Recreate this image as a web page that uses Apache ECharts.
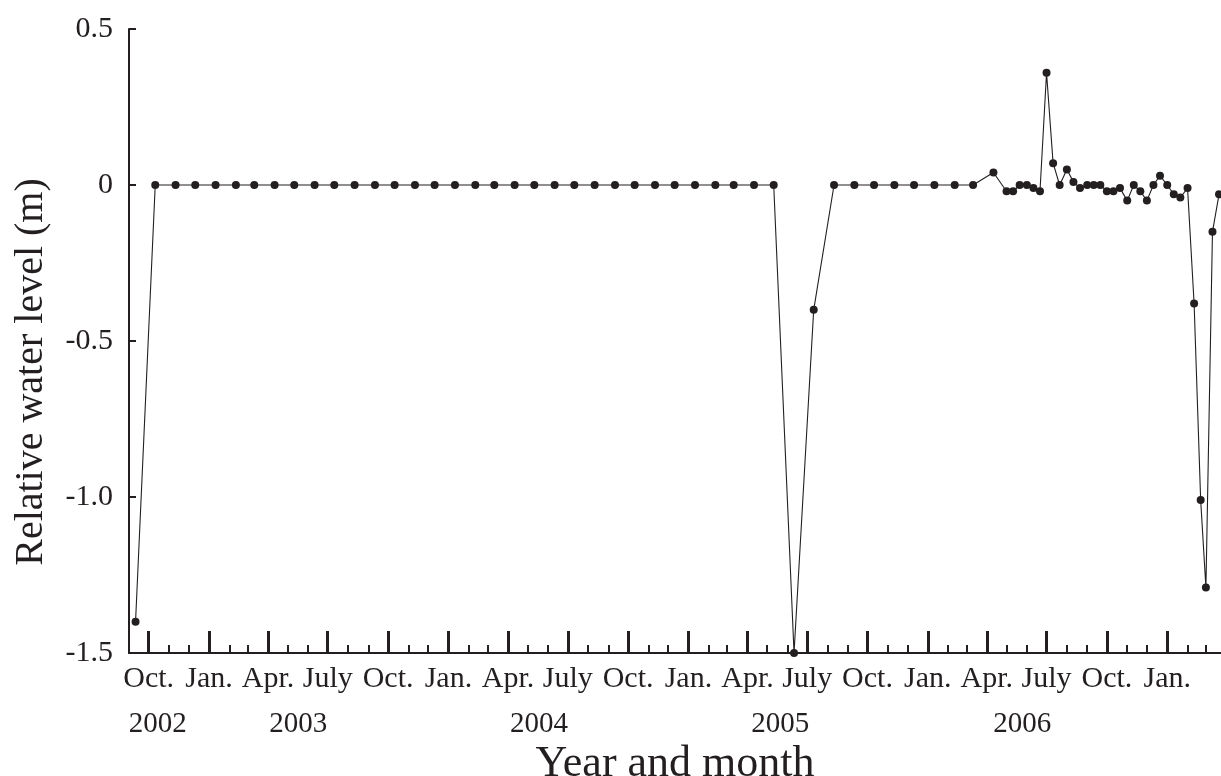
<!DOCTYPE html>
<html>
<head>
<meta charset="utf-8">
<script src="https://cdn.jsdelivr.net/npm/echarts@6/dist/echarts.min.js"></script>
<style>
html,body{margin:0;padding:0;background:#fff;}
#chart{width:1221px;height:776px;}
</style>
</head>
<body>
<div id="chart"></div>
<script>
// ---- data ----
var monthlyDates = [
  '2002-09-11','2002-10-11','2002-11-11','2002-12-11',
  '2003-01-11','2003-02-11','2003-03-11','2003-04-11','2003-05-11','2003-06-11',
  '2003-07-11','2003-08-11','2003-09-11','2003-10-11','2003-11-11','2003-12-11',
  '2004-01-11','2004-02-11','2004-03-11','2004-04-11','2004-05-11','2004-06-11',
  '2004-07-11','2004-08-11','2004-09-11','2004-10-11','2004-11-11','2004-12-11',
  '2005-01-11','2005-02-11','2005-03-11','2005-04-11','2005-05-11','2005-06-11',
  '2005-07-11','2005-08-11','2005-09-11','2005-10-11','2005-11-11','2005-12-11',
  '2006-01-11','2006-02-11','2006-03-11','2006-04-11'
];
var monthlyValues = [
  -1.40, 0, 0, 0,
  0, 0, 0, 0, 0, 0,
  0, 0, 0, 0, 0, 0,
  0, 0, 0, 0, 0, 0,
  0, 0, 0, 0, 0, 0,
  0, 0, 0, 0, 0, -1.50,
  -0.40, 0, 0, 0, 0, 0,
  0, 0, 0, 0.04
];
var dekadDates = [
  '2006-05-01','2006-05-11','2006-05-21','2006-06-01','2006-06-11','2006-06-21',
  '2006-07-01','2006-07-11','2006-07-21','2006-08-01','2006-08-11','2006-08-21',
  '2006-09-01','2006-09-11','2006-09-21','2006-10-01','2006-10-11','2006-10-21',
  '2006-11-01','2006-11-11','2006-11-21','2006-12-01','2006-12-11','2006-12-21',
  '2007-01-01','2007-01-11','2007-01-21','2007-02-01','2007-02-11','2007-02-21',
  '2007-03-01','2007-03-11','2007-03-21'
];
var dekadValues = [
  -0.02, -0.02, 0, 0, -0.01, -0.02,
  0.36, 0.07, 0, 0.05, 0.01, -0.01,
  0, 0, 0, -0.02, -0.02, -0.01,
  -0.05, 0, -0.02, -0.05, 0, 0.03,
  0, -0.03, -0.04, -0.01, -0.38, -1.01,
  -1.29, -0.15, -0.03
];
var quarterTicks = [
  '2002-10-01','2003-01-01','2003-04-01','2003-07-01','2003-10-01',
  '2004-01-01','2004-04-01','2004-07-01','2004-10-01',
  '2005-01-01','2005-04-01','2005-07-01','2005-10-01',
  '2006-01-01','2006-04-01','2006-07-01','2006-10-01','2007-01-01'
];
var monthNames = {0:'Jan.', 3:'Apr.', 6:'July', 9:'Oct.'};
var yearLabelDates = ['2002-10-15','2003-05-17','2004-05-18','2005-05-21','2006-05-25'];
var yearLabels = ['2002','2003','2004','2005','2006'];
var yTickLabels = {'0.5':'0.5','0':'0','-0.5':'-0.5','-1':'-1.0','-1.5':'-1.5'};
var xMin = '2002-09-01', xMax = '2007-03-24';

// ---- build ----
function ts(s){ var p = s.split('-'); return Date.UTC(+p[0], +p[1]-1, +p[2]); }

var seriesData = [];
monthlyDates.forEach(function(d,i){ seriesData.push([ts(d), monthlyValues[i]]); });
dekadDates.forEach(function(d,i){ seriesData.push([ts(d), dekadValues[i]]); });

var monthTicks = [];
for (var y = 2002; y <= 2007; y++) {
  for (var m = 1; m <= 12; m++) {
    var s = y + '-' + (m < 10 ? '0' + m : m) + '-01';
    if (s >= '2002-10-01' && s <= '2007-03-01') monthTicks.push(ts(s));
  }
}
var quarterTs = quarterTicks.map(ts);
var yearTs = yearLabelDates.map(ts);

var FONT = 'Liberation Serif';
var INK = '#231f20';
var XMIN = ts(xMin), XMAX = ts(xMax);

var chart = echarts.init(document.getElementById('chart'), null, {renderer:'canvas'});
chart.setOption({
  backgroundColor:'#ffffff',
  animation:false,
  grid:{left:129, right:0, top:29, bottom:123, containLabel:false, outerBoundsMode:'none'},
  xAxis:[
    {
      type:'value', min:XMIN, max:XMAX, scale:true,
      name:'Year and month', nameLocation:'middle', nameGap:89,
      nameTextStyle:{fontFamily:FONT, fontSize:44, color:INK},
      axisLine:{show:true, onZero:false, lineStyle:{color:INK, width:2}},
      axisTick:{show:true, inside:true, length:22, lineStyle:{color:INK, width:3}, customValues:quarterTs},
      axisLabel:{show:true, margin:11, fontFamily:FONT, fontSize:30, color:INK,
        customValues:quarterTs,
        formatter:function(v){ return monthNames[new Date(v).getUTCMonth()]; }},
      splitLine:{show:false}, minorTick:{show:false}
    },
    {
      type:'value', min:XMIN, max:XMAX, scale:true, position:'bottom',
      axisLine:{show:false, onZero:false},
      axisTick:{show:true, inside:true, length:8, lineStyle:{color:INK, width:2}, customValues:monthTicks},
      axisLabel:{show:false},
      splitLine:{show:false}
    },
    {
      type:'value', min:XMIN, max:XMAX, scale:true, position:'bottom',
      axisLine:{show:false, onZero:false}, axisTick:{show:false},
      axisLabel:{show:true, margin:57, fontFamily:FONT, fontSize:29, color:INK,
        customValues:yearTs,
        formatter:function(v){
          var idx = yearTs.indexOf(v);
          return idx >= 0 ? yearLabels[idx] : '';
        }},
      splitLine:{show:false}
    }
  ],
  yAxis:{
    type:'value', min:-1.5, max:0.5, interval:0.5,
    axisLine:{show:true, onZero:false, lineStyle:{color:INK, width:2}},
    axisTick:{show:true, inside:true, length:7, lineStyle:{color:INK, width:2}},
    axisLabel:{margin:16, fontFamily:FONT, fontSize:30, color:INK,
      formatter:function(v){ var k = String(Math.round(v*10)/10); return yTickLabels[k] !== undefined ? yTickLabels[k] : k; }},
    splitLine:{show:false}
  },
  graphic:[{
    type:'text', x:31, y:372, rotation:Math.PI/2,
    style:{text:'Relative water level (m)', font:'40px "Liberation Serif"', fill:INK, align:'center', verticalAlign:'middle'}
  }],
  series:[{
    type:'line', xAxisIndex:0, yAxisIndex:0,
    data:seriesData,
    symbol:'circle', symbolSize:8, showSymbol:true,
    lineStyle:{color:INK, width:1.1},
    itemStyle:{color:INK},
    clip:true
  }]
});
</script>
</body>
</html>
